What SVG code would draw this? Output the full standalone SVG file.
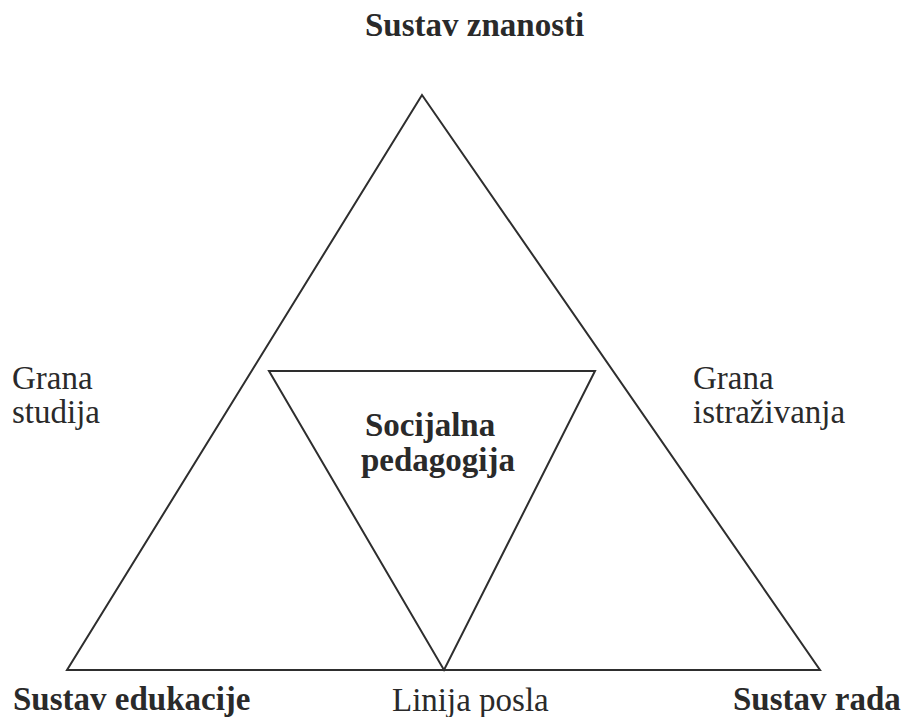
<svg xmlns="http://www.w3.org/2000/svg" width="906" height="717" viewBox="0 0 906 717">
<style>
.tri{fill:none;stroke:#2e2e2e;stroke-width:2;stroke-linejoin:miter}
.b{font-family:"Liberation Serif","Times New Roman",serif;font-size:33px;font-weight:bold;fill:#2a2a2a}
.r{font-family:"Liberation Serif","Times New Roman",serif;font-size:33px;fill:#2a2a2a}
</style>
<rect width="906" height="717" fill="#ffffff"/>
<g id="outer-triangle">
<polygon class="tri" points="422,95 67,670 820,670"/>
</g>
<g id="inner-triangle">
<polygon class="tri" points="269,371 595,371 444,670"/>
</g>
<g id="sustav-znanosti"><text class="b" x="365" y="36">Sustav znanosti</text></g>
<g id="sustav-edukacije"><text class="b" x="13" y="710">Sustav edukacije</text></g>
<g id="sustav-rada"><text class="b" x="733" y="710">Sustav rada</text></g>
<g id="linija-posla"><text class="r" x="392" y="711">Linija posla</text></g>
<g id="grana-studija"><text class="r" x="12" y="389">Grana</text><text class="r" x="12" y="423">studija</text></g>
<g id="grana-istrazivanja"><text class="r" x="693" y="389">Grana</text><text class="r" x="693" y="423">istraživanja</text></g>
<g id="socijalna-pedagogija"><text class="b" x="365" y="436">Socijalna</text><text class="b" x="361" y="471">pedagogija</text></g>
</svg>
